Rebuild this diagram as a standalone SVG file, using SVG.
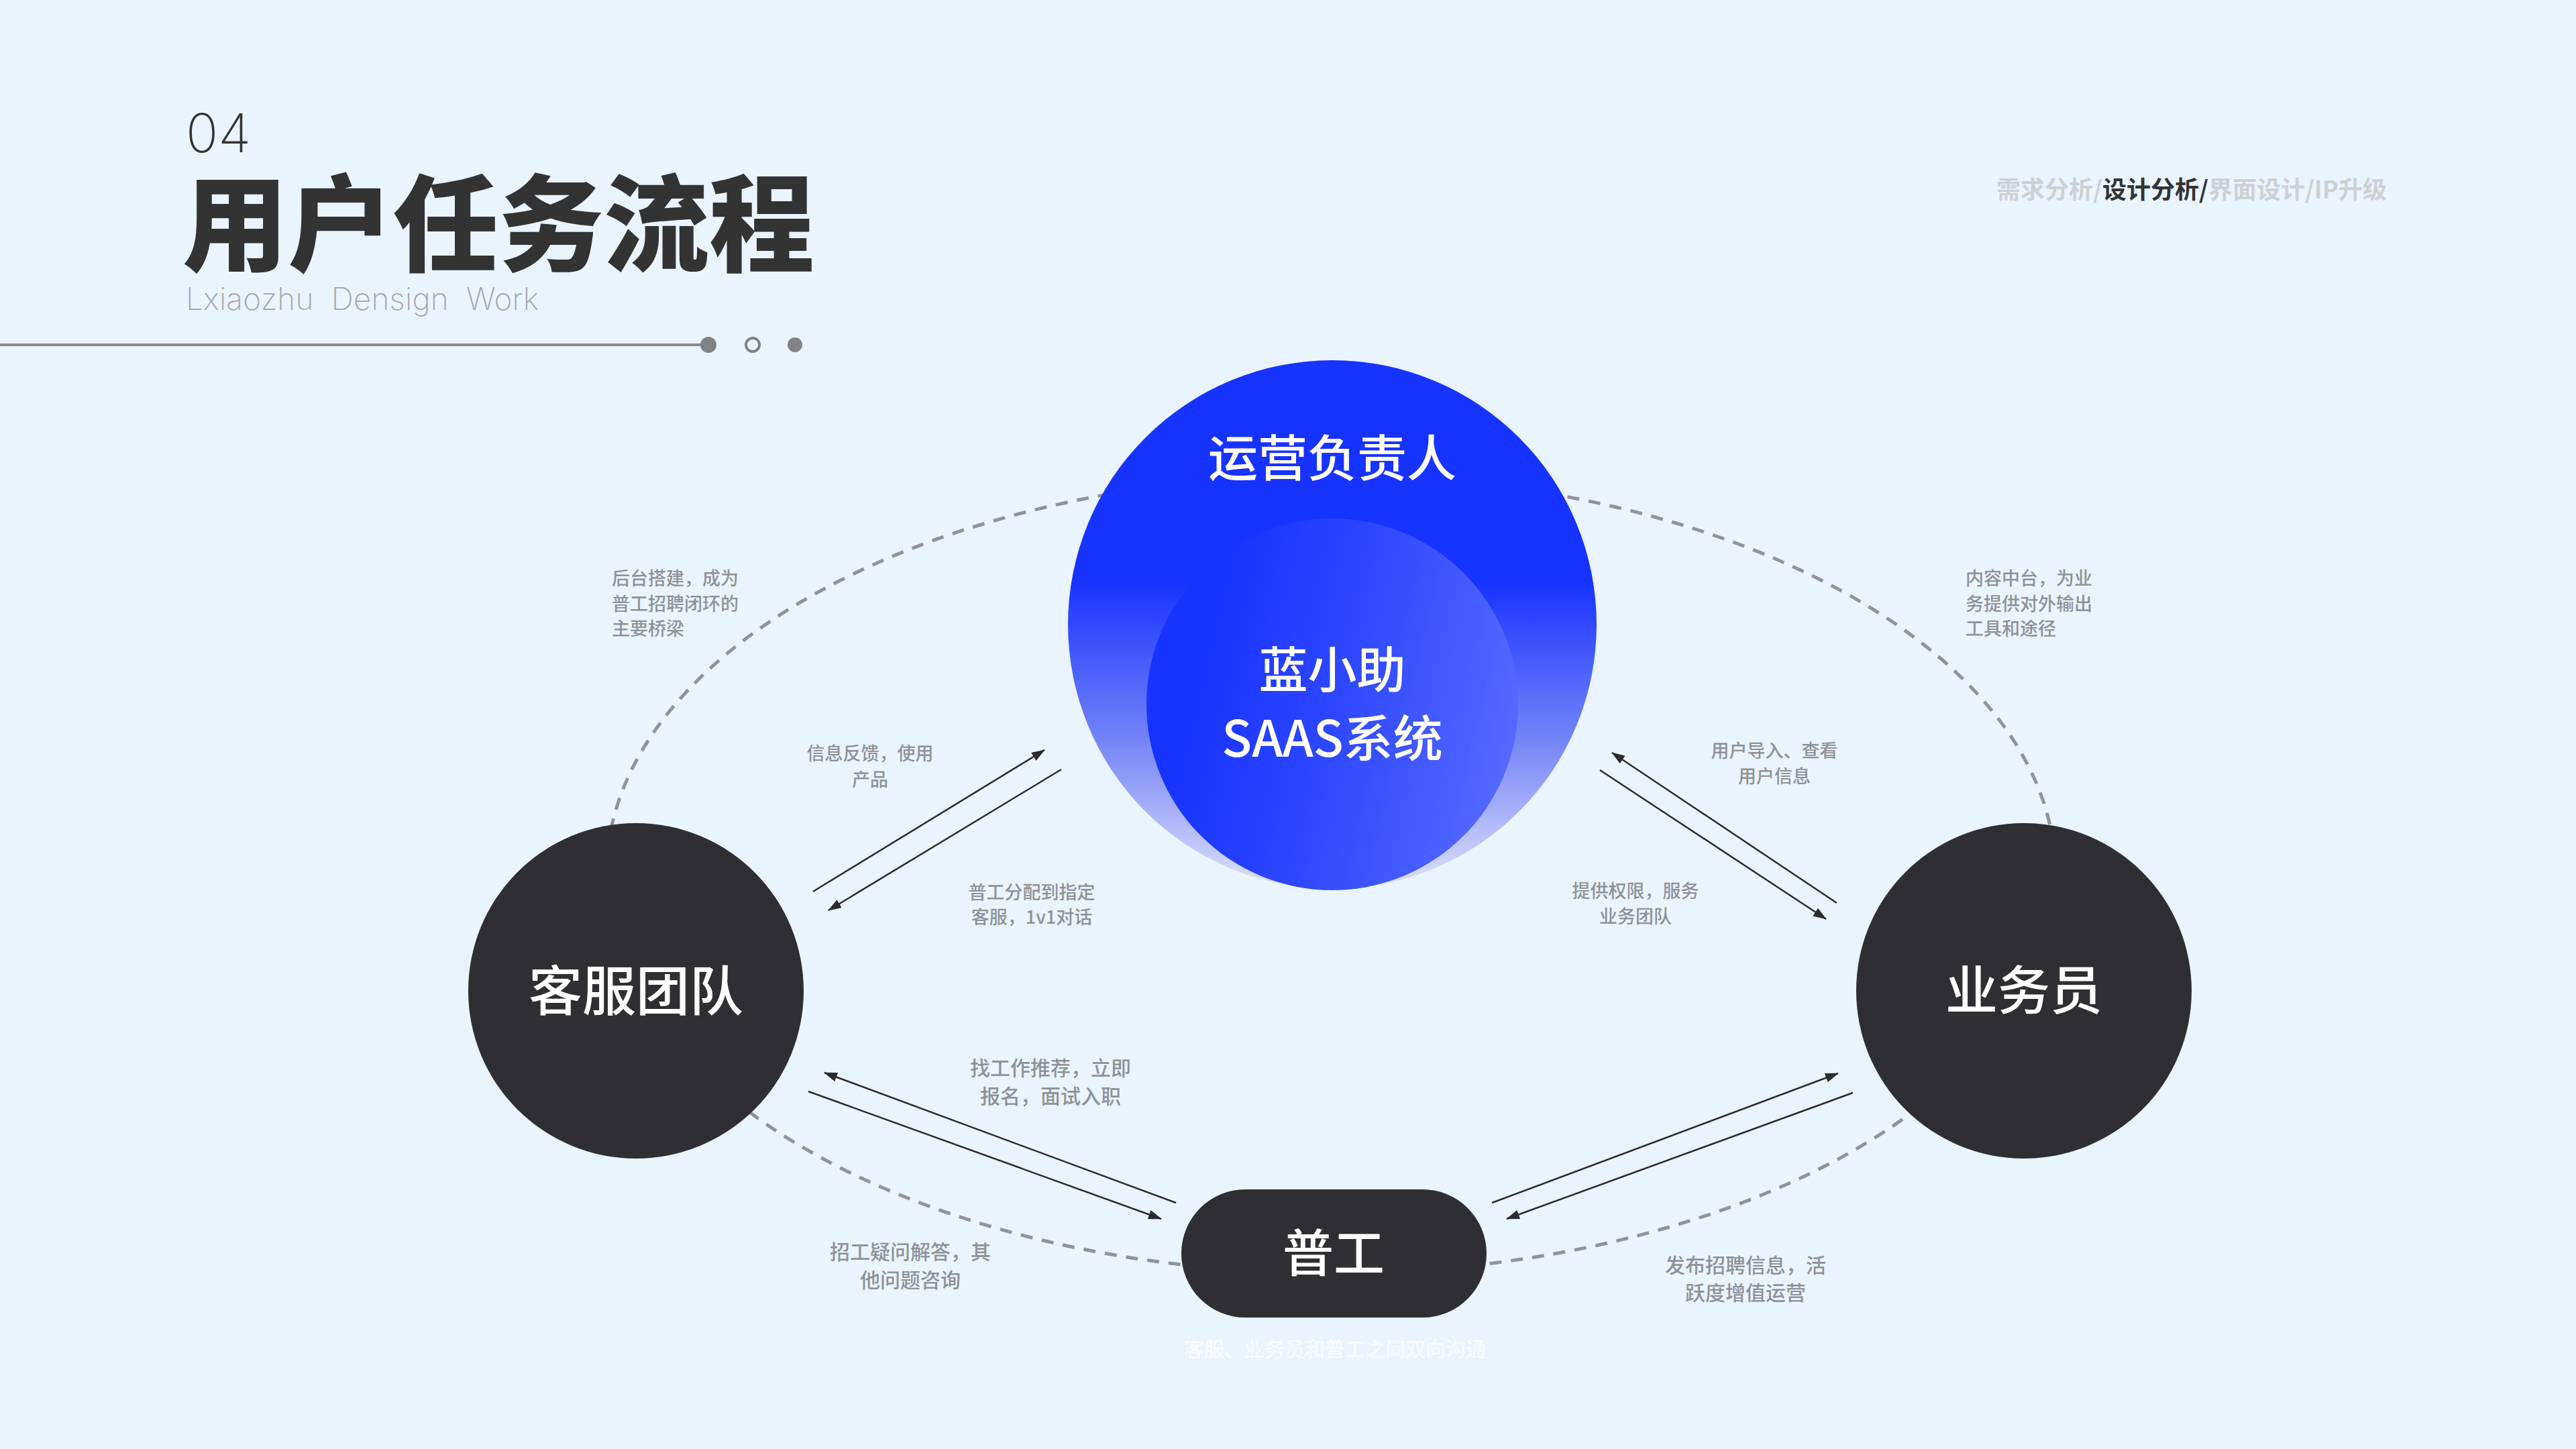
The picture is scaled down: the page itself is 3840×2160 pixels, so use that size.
<svg xmlns="http://www.w3.org/2000/svg" width="3840" height="2160" viewBox="0 0 3840 2160">
<defs>
<style>
.cjk{font-family:"Noto Sans CJK SC","Noto Sans",sans-serif;}
.lbl{font-family:"Noto Sans CJK SC",sans-serif;font-size:27px;font-weight:500;fill:#8E9297;}
.lblb{font-family:"Noto Sans CJK SC",sans-serif;font-size:30px;font-weight:500;fill:#8E9297;}
.nodet{font-family:"Noto Sans CJK SC",sans-serif;font-weight:700;fill:#FFFFFF;text-anchor:middle;}
.dark{fill:#2F2F33;}
.arr{stroke:#2B2B2E;stroke-width:2.5;fill:none;marker-end:url(#ah);}
.c{text-anchor:middle;}
</style>
<marker id="ah" viewBox="0 0 20 14" markerWidth="20" markerHeight="14" refX="19" refY="7" orient="auto" markerUnits="userSpaceOnUse">
<path d="M0,0 L20,7 L0,14 z" fill="#2B2B2E"/>
</marker>
<linearGradient id="gOuter" x1="0" y1="0" x2="0" y2="1">
<stop offset="0" stop-color="#1733FF"/>
<stop offset="0.42" stop-color="#1733FF"/>
<stop offset="0.72" stop-color="#7585F8"/>
<stop offset="1" stop-color="#DEE3FA"/>
</linearGradient>
<linearGradient id="gInner" x1="0.15" y1="0.35" x2="1" y2="0.55">
<stop offset="0" stop-color="#1733FF"/>
<stop offset="0.45" stop-color="#2E48FF"/>
<stop offset="1" stop-color="#5569FF"/>
</linearGradient>
</defs>
<rect x="0" y="0" width="3840" height="2160" fill="#EAF4FE"/>

<g id="header">
<text x="277" y="227" style="font-family:Inter,'Noto Sans',sans-serif;font-size:80px;font-weight:200;fill:#333333;">04</text>
<text x="272" y="392" class="cjk" style="font-size:157px;font-weight:900;fill:#333333;">用户任务流程</text>
<text x="277" y="462" textLength="526" lengthAdjust="spacing" style="font-family:Inter,'Noto Sans',sans-serif;font-size:46px;font-weight:200;fill:#A3A7AE;white-space:pre;" xml:space="preserve">Lxiaozhu  Densign  Work</text>
<line x1="0" y1="514" x2="1050" y2="514" stroke="#8A8C90" stroke-width="4"/>
<circle cx="1056" cy="514" r="12" fill="#808286"/>
<circle cx="1122" cy="514" r="10" fill="none" stroke="#808286" stroke-width="4"/>
<circle cx="1185" cy="514" r="11" fill="#808286"/>
<text x="2976" y="296" class="cjk" style="font-size:36px;font-weight:700;fill:#CDD0D4;">需求分析/<tspan fill="#333333">设计分析/</tspan>界面设计/IP升级</text>
</g>

<g id="orbit">
<ellipse cx="1984" cy="1303" rx="1080" ry="595" fill="none" stroke="#909399" stroke-width="5" stroke-dasharray="18 14"/>
</g>

<g id="connectors">
<line class="arr" x1="1212" y1="1329" x2="1557" y2="1118"/>
<line class="arr" x1="1582" y1="1147" x2="1235" y2="1357"/>
<line class="arr" x1="2738" y1="1346" x2="2403" y2="1122"/>
<line class="arr" x1="2385" y1="1148" x2="2722" y2="1370"/>
<line class="arr" x1="1753" y1="1793" x2="1229" y2="1599"/>
<line class="arr" x1="1205" y1="1627" x2="1731" y2="1817"/>
<line class="arr" x1="2224" y1="1793" x2="2740" y2="1600"/>
<line class="arr" x1="2762" y1="1629" x2="2246" y2="1817"/>
</g>

<g id="node-ops">
<circle cx="1986" cy="931" r="394" fill="url(#gOuter)"/>
<text x="1986" y="710" class="nodet" style="font-size:74px;font-weight:500;">运营负责人</text>
</g>
<g id="node-saas">
<circle cx="1986" cy="1050" r="277" fill="url(#gInner)"/>
<text x="1986" y="1025" class="nodet" style="font-size:73px;font-weight:500;">蓝小助</text>
<text x="1986" y="1128" class="nodet" style="font-size:74px;font-weight:500;">SAAS系统</text>
</g>
<g id="node-kefu">
<circle cx="948" cy="1477" r="250" class="dark"/>
<text x="948" y="1506" class="nodet" style="font-size:80px;font-weight:500;">客服团队</text>
</g>
<g id="node-yewu">
<circle cx="3017" cy="1477" r="250" class="dark"/>
<text x="3017" y="1505" class="nodet" style="font-size:78px;font-weight:500;">业务员</text>
</g>
<g id="node-pugong">
<rect x="1761" y="1773" width="455" height="191" rx="95.5" class="dark"/>
<text x="1988" y="1896" class="nodet" style="font-size:76px;font-weight:500;">普工</text>
</g>

<g id="labels">
<text class="lbl" x="912" y="872">后台搭建，成为</text>
<text class="lbl" x="912" y="910">普工招聘闭环的</text>
<text class="lbl" x="912" y="947">主要桥梁</text>
<text class="lbl" x="2930" y="872">内容中台，为业</text>
<text class="lbl" x="2930" y="910">务提供对外输出</text>
<text class="lbl" x="2930" y="947">工具和途径</text>
<text class="lbl c" x="1297" y="1133">信息反馈，使用</text>
<text class="lbl c" x="1297" y="1172">产品</text>
<text class="lbl c" x="1538" y="1340">普工分配到指定</text>
<text class="lbl c" x="1538" y="1377">客服，1v1对话</text>
<text class="lbl c" x="2645" y="1129">用户导入、查看</text>
<text class="lbl c" x="2645" y="1167">用户信息</text>
<text class="lbl c" x="2438" y="1338">提供权限，服务</text>
<text class="lbl c" x="2438" y="1376">业务团队</text>
<text class="lblb c" x="1566" y="1603">找工作推荐，立即</text>
<text class="lblb c" x="1566" y="1645">报名，面试入职</text>
<text class="lblb c" x="1357" y="1877">招工疑问解答，其</text>
<text class="lblb c" x="1357" y="1919">他问题咨询</text>
<text class="lblb c" x="2602" y="1897">发布招聘信息，活</text>
<text class="lblb c" x="2602" y="1938">跃度增值运营</text>
<text class="lblb c" x="1990" y="2022" style="fill:#FFFFFF;opacity:0.75;">客服、业务员和普工之间双向沟通</text>
</g>
</svg>
